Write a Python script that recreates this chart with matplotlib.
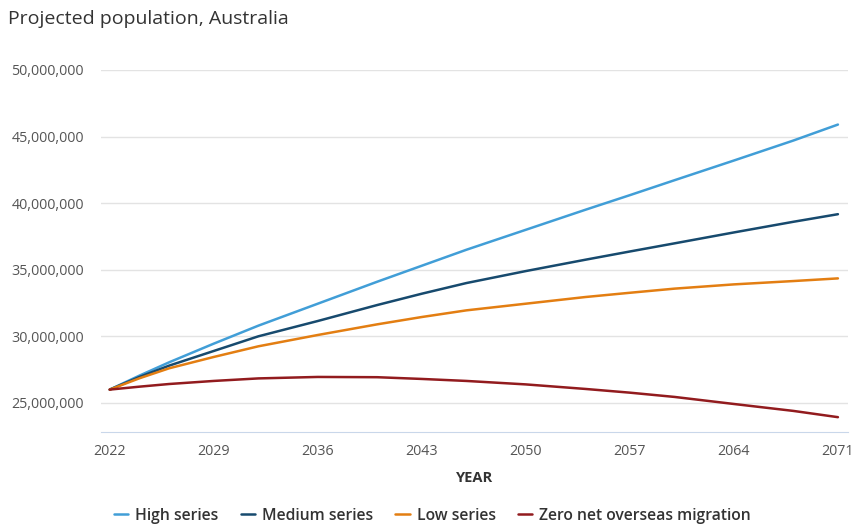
import matplotlib.pyplot as plt
from matplotlib.ticker import FuncFormatter

plt.rcParams['font.family'] = ['Open Sans', 'DejaVu Sans']

# Projected population (millions)
years = [2022, 2024, 2026, 2029, 2032, 2036, 2040, 2043, 2046, 2050,
         2054, 2057, 2060, 2064, 2068, 2071]
high = [26.0, 27.05, 28.05, 29.45, 30.8, 32.45, 34.1, 35.3, 36.5, 38.0,
        39.5, 40.6, 41.72, 43.2, 44.7, 45.9]
medium = [26.0, 26.95, 27.8, 28.9, 30.0, 31.15, 32.35, 33.2, 34.0, 34.9,
          35.75, 36.37, 36.98, 37.8, 38.6, 39.17]
low = [26.0, 26.85, 27.6, 28.45, 29.25, 30.1, 30.9, 31.45, 31.95, 32.45,
       32.95, 33.27, 33.58, 33.9, 34.15, 34.35]
zero_nom = [26.0, 26.22, 26.42, 26.65, 26.84, 26.95, 26.93, 26.8, 26.65, 26.39,
            26.05, 25.77, 25.45, 24.92, 24.4, 23.93]

series_names = ["High series", "Medium series", "Low series",
                "Zero net overseas migration"]
colors = ['#419ED7', '#174A6E', '#E37E12', '#921B1E']
x_ticks = [2022, 2029, 2036, 2043, 2050, 2057, 2064, 2071]
y_ticks = [25e6, 30e6, 35e6, 40e6, 45e6, 50e6]

fig = plt.figure(figsize=(8.53, 5.30), dpi=100)
ax = fig.add_axes([0.118, 0.185, 0.876, 0.683])

for vals, name, c in zip([high, medium, low, zero_nom], series_names, colors):
    ax.plot(years, [v * 1e6 for v in vals], color=c, lw=1.8, label=name,
            solid_capstyle='round', solid_joinstyle='round')

ax.set_xlim(2021.39, 2071.67)
ax.set_ylim(22.82e6, 50e6)
ax.set_xticks(x_ticks)
ax.set_yticks(y_ticks)
ax.yaxis.set_major_formatter(FuncFormatter(lambda y, _: f"{int(y):,}"))
ax.grid(axis='y', color='#e3e3e3', lw=1)
ax.set_axisbelow(True)
for s in ['top', 'right', 'left']:
    ax.spines[s].set_visible(False)
ax.spines['bottom'].set_color('#c9d7ea')
ax.tick_params(length=0, labelsize=10.3, labelcolor='#555555')
ax.tick_params(axis='y', pad=12)
ax.tick_params(axis='x', pad=9)
ax.set_xlabel("YEAR", fontsize=10.5, fontweight='bold', color='#333333',
              labelpad=8)

fig.text(0.009, 0.964, "Projected population, Australia", fontsize=14,
         color='#333333', va='center')

fig.legend(loc='center', bbox_to_anchor=(0.507, 0.027), ncol=4, frameon=False,
           handlelength=0.9, handletextpad=0.45, columnspacing=1.42,
           prop={'size': 11.3, 'weight': 'semibold'}, labelcolor='#333333')

fig.savefig("out.png", dpi=100)
